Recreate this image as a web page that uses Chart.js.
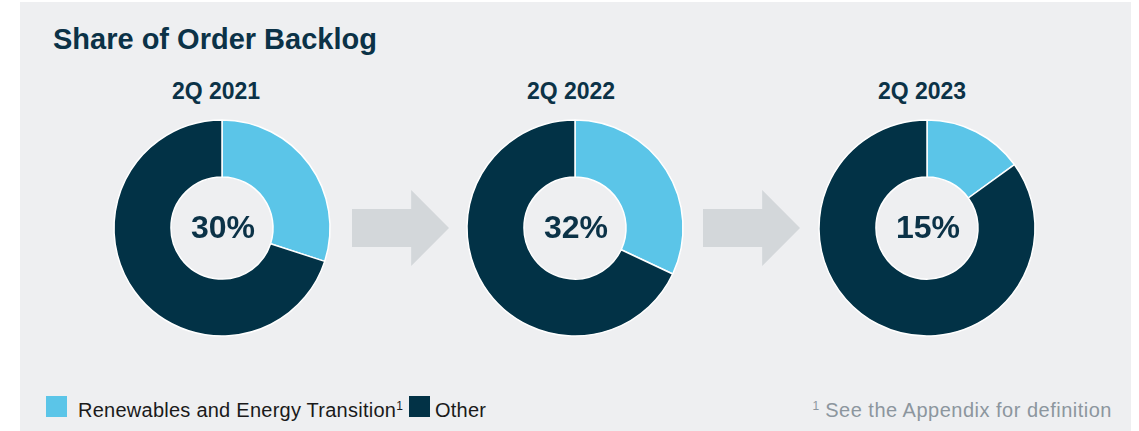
<!DOCTYPE html>
<html>
<head>
<meta charset="utf-8">
<script src="https://cdn.jsdelivr.net/npm/chart.js@4"></script>
<style>
  html, body { margin: 0; padding: 0; background: #ffffff; width: 1139px; height: 431px; overflow: hidden; }
  body { position: relative; font-family: "Liberation Sans", Arial, sans-serif; }
  #panel { position: absolute; left: 20px; top: 2px; width: 1111px; height: 429px; background: #eeeff1; }
  .abs { position: absolute; white-space: nowrap; }
  #title { left: 53px; top: 25px; font-size: 29px; line-height: 29px; font-weight: bold; color: #0b3247; }
  .sub { font-size: 23px; line-height: 23px; font-weight: bold; color: #0b3247; width: 200px; text-align: center; top: 80px; }
  .chartbox { position: absolute; width: 230px; height: 230px; top: 113px; }
  .arrow { position: absolute; top: 190px; width: 97px; height: 76px; background: #d3d7da;
           clip-path: polygon(0 25%, 61% 25%, 61% 0, 100% 50%, 61% 100%, 61% 75%, 0 75%); }
  .leg { top: 400px; font-size: 20px; line-height: 20px; color: #1a1a1a; letter-spacing: 0.25px; }
  .sw { position: absolute; top: 396px; width: 21px; height: 21px; }
  sup { font-size: 12px; vertical-align: 0; position: relative; top: -7px; letter-spacing: 0; }
  #foot { top: 400px; right: 27px; font-size: 20px; line-height: 20px; color: #8c969e; letter-spacing: 0.5px; }
</style>
</head>
<body>
<div id="panel"></div>
<div class="abs" id="title">Share of Order Backlog</div>

<div class="arrow" style="left:352px"></div>
<div class="arrow" style="left:703px"></div>

<div id="charts"></div>

<div class="sw" style="left:46px; background:#5bc5e8"></div>
<div class="abs leg" style="left:78px">Renewables and Energy Transition<sup>1</sup></div>
<div class="sw" style="left:409px; background:#023246"></div>
<div class="abs leg" style="left:435px">Other</div>
<div class="abs" id="foot"><sup>1</sup>&nbsp;See the Appendix for definition</div>

<script>
const categories = ['2Q 2021', '2Q 2022', '2Q 2023'];
const renewables = [30, 32, 15];
const other = [70, 68, 85];
const seriesLabels = ['Renewables and Energy Transition', 'Other'];

const centersX = [222, 575, 927];
const subOffset = [-6, -4, -5];
const colors = ['#5bc5e8', '#023246'];

const centerText = {
  id: 'centerText',
  afterDraw(chart, args, opts) {
    const ctx = chart.ctx;
    const meta = chart.getDatasetMeta(0);
    const arc = meta.data[0];
    ctx.save();
    ctx.font = 'bold 32px "Liberation Sans", Arial, sans-serif';
    ctx.fillStyle = '#0b3247';
    ctx.textAlign = 'center';
    ctx.textBaseline = 'middle';
    ctx.fillText(opts.text, arc.x + 1, arc.y + 1);
    ctx.restore();
  }
};

const host = document.getElementById('charts');
categories.forEach((cat, i) => {
  const sub = document.createElement('div');
  sub.className = 'abs sub';
  sub.style.left = (centersX[i] + subOffset[i] - 100) + 'px';
  sub.textContent = cat;
  document.body.appendChild(sub);

  const box = document.createElement('div');
  box.className = 'chartbox';
  box.style.left = (centersX[i] - 115) + 'px';
  const cv = document.createElement('canvas');
  cv.width = 230; cv.height = 230;
  box.appendChild(cv);
  host.appendChild(box);

  new Chart(cv, {
    type: 'doughnut',
    data: {
      labels: seriesLabels,
      datasets: [{
        data: [renewables[i], other[i]],
        backgroundColor: colors,
        borderColor: '#ffffff',
        borderWidth: 1.5
      }]
    },
    options: {
      responsive: false,
      devicePixelRatio: 1,
      animation: false,
      radius: 108,
      cutout: 54,
      layout: { padding: 0 },
      plugins: {
        legend: { display: false },
        tooltip: { enabled: false },
        centerText: { text: renewables[i] + '%' }
      }
    },
    plugins: [centerText]
  });
});
</script>
</body>
</html>
